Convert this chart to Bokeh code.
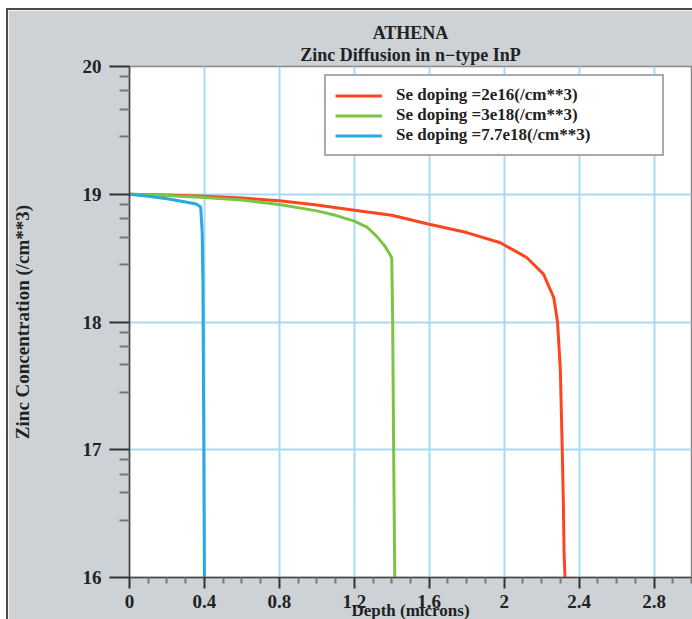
from bokeh.plotting import figure
from bokeh.models import FixedTicker, Legend, LegendItem, Range1d, Title
from bokeh.embed import file_html
from bokeh.resources import INLINE

# ---- data (depth in microns, log10 of Zn concentration) ----
red_x = [0, 0.2, 0.4, 0.6, 0.8, 1.0, 1.2, 1.4, 1.6, 1.8, 1.98, 2.12, 2.21, 2.265, 2.285, 2.30, 2.31, 2.316, 2.32, 2.325]
red_y = [19.0, 18.995, 18.985, 18.97, 18.95, 18.915, 18.875, 18.835, 18.765, 18.70, 18.62, 18.505, 18.375, 18.19, 18.0, 17.62, 17.0, 16.58, 16.18, 16.0]

green_x = [0, 0.2, 0.4, 0.6, 0.8, 1.0, 1.1, 1.2, 1.27, 1.32, 1.36, 1.39, 1.40, 1.405, 1.41, 1.416]
green_y = [19.0, 18.99, 18.975, 18.955, 18.92, 18.87, 18.835, 18.79, 18.74, 18.67, 18.60, 18.53, 18.50, 18.0, 17.0, 16.0]

blue_x = [0, 0.1, 0.2, 0.3, 0.356, 0.38, 0.388, 0.392, 0.396, 0.40]
blue_y = [19.0, 18.985, 18.965, 18.94, 18.923, 18.90, 18.7, 18.3, 17.2, 16.0]

series_labels = ["Se doping =2e16(/cm**3)", "Se doping =3e18(/cm**3)", "Se doping =7.7e18(/cm**3)"]

x_ticks = [0, 0.4, 0.8, 1.2, 1.6, 2, 2.4, 2.8]
x_tick_labels = ["0", "0.4", "0.8", "1.2", "1.6", "2", "2.4", "2.8"]
x_minor = [0.1, 0.2, 0.3, 0.5, 0.6, 0.7, 0.9, 1.0, 1.1, 1.3, 1.4, 1.5, 1.7, 1.8, 1.9,
           2.1, 2.2, 2.3, 2.5, 2.6, 2.7, 2.9, 3.0]
y_ticks = [16, 17, 18, 19, 20]
y_minor_offsets = [0.08, 0.19, 0.335, 0.55]

title_main = "ATHENA"
title_sub = "Zinc Diffusion in n\u2212type InP"
x_label = "Depth (microns)"
y_label = "Zinc Concentration (/cm**3)"

# ---- styling ----
FONT = "Liberation Serif"
GRAY_BG = "#cdd2d7"
GRID = "#a6dbf3"
colors = ["#ff4420", "#7cc444", "#2aa8e0"]

p = figure(frame_width=562, frame_height=511,
           x_range=Range1d(0, 3.0), y_range=Range1d(16, 20),
           output_backend="svg", toolbar_location=None,
           margin=(10, 0, 0, 8),
           min_border_left=117, min_border_right=5,
           min_border_top=56, min_border_bottom=42,
           border_fill_color=GRAY_BG, background_fill_color="white")
p.styles = {"outline": "2px solid #4a4a4a"}

# p.title ends up on top; the added Title sits next to the frame
p.title.text = title_main
p.title.align = "center"
p.title.text_font = FONT
p.title.text_font_size = "18px"
p.title.text_font_style = "bold"
p.title.text_color = "#222222"
p.title.standoff = 4
sub = Title(text=title_sub, align="center", vertical_align="top", text_font=FONT,
            text_font_size="18px", text_font_style="bold", text_color="#222222", standoff=0)
p.add_layout(sub, "above")

p.outline_line_color = "#888888"
p.outline_line_width = 1.5

# axes
p.xaxis.ticker = FixedTicker(ticks=x_ticks, minor_ticks=x_minor)
p.xaxis.major_label_overrides = dict(zip(x_ticks, x_tick_labels))
y_minor = [t - o for t in y_ticks[1:] for o in y_minor_offsets]
p.yaxis.ticker = FixedTicker(ticks=y_ticks, minor_ticks=y_minor)

for ax in (p.xaxis[0], p.yaxis[0]):
    ax.axis_line_color = "#444444"
    ax.axis_line_width = 1.5
    ax.major_tick_line_color = "#333333"
    ax.major_tick_line_width = 2
    ax.minor_tick_line_color = "#777777"
    ax.minor_tick_line_width = 2
    ax.major_tick_in = 0
    ax.minor_tick_in = 0
    ax.major_label_text_font = FONT
    ax.major_label_text_font_style = "bold"
    ax.major_label_text_font_size = "19px"
    ax.major_label_text_color = "#222222"
    ax.axis_label_text_font = FONT
    ax.axis_label_text_font_style = "bold"
    ax.axis_label_text_color = "#222222"

p.xaxis.major_tick_out = 11
p.xaxis.minor_tick_out = 6
p.xaxis.major_label_standoff = 6
p.xaxis.axis_label = x_label
p.xaxis.axis_label_text_font_size = "17px"
p.xaxis.axis_label_standoff = -10

p.yaxis.major_tick_out = 20
p.yaxis.minor_tick_out = 10
p.yaxis.major_label_standoff = 8
p.yaxis.axis_label = y_label
p.yaxis.axis_label_text_font_size = "19px"
p.yaxis.axis_label_standoff = 47

# grid
p.xgrid.ticker = FixedTicker(ticks=x_ticks[1:])
p.ygrid.ticker = FixedTicker(ticks=y_ticks[1:-1])
for g in (p.xgrid[0], p.ygrid[0]):
    g.grid_line_color = GRID
    g.grid_line_width = 2

# curves
r1 = p.line(red_x, red_y, line_color=colors[0], line_width=3)
r2 = p.line(green_x, green_y, line_color=colors[1], line_width=3)
r3 = p.line(blue_x, blue_y, line_color=colors[2], line_width=3)

legend = Legend(items=[LegendItem(label=series_labels[0], renderers=[r1]),
                       LegendItem(label=series_labels[1], renderers=[r2]),
                       LegendItem(label=series_labels[2], renderers=[r3])],
                location=(195, 421))
legend.label_text_font = FONT
legend.label_text_font_style = "bold"
legend.label_text_font_size = "17px"
legend.label_text_color = "#222222"
legend.glyph_width = 47
legend.glyph_height = 19
legend.label_height = 19
legend.label_standoff = 14
legend.label_width = 257
legend.spacing = 0
legend.padding = 9
legend.margin = 0
legend.border_line_color = "#555555"
legend.border_line_width = 2
legend.background_fill_color = "white"
legend.background_fill_alpha = 1.0
p.add_layout(legend)

open("out.html", "w").write(file_html(p, INLINE))
